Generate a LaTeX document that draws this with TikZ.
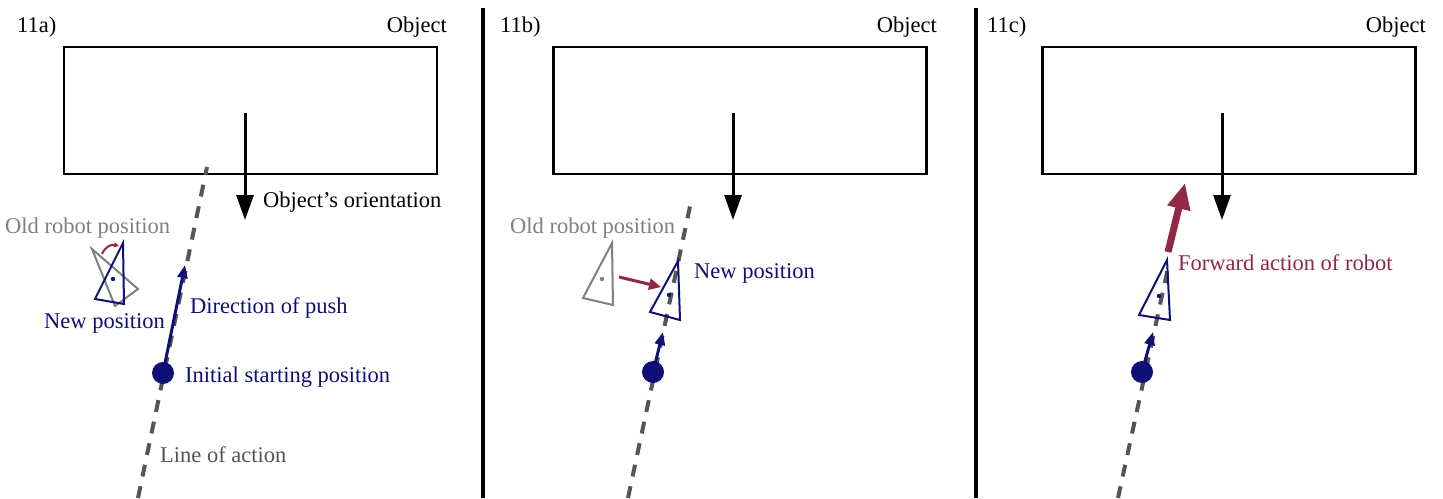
\documentclass[tikz,border=0pt]{standalone}
\usepackage{fontspec}
\newfontfamily\serifA{Liberation Serif}
\usetikzlibrary{arrows.meta}
\definecolor{navyc}{RGB}{15,15,120}
\definecolor{redc}{RGB}{145,40,70}
\definecolor{lgray}{RGB}{128,128,128}
\definecolor{dgray}{RGB}{85,85,85}
\begin{document}
\begin{tikzpicture}[x=1pt,y=-1pt,
  lbl/.style={font=\serifA\fontsize{22.5}{27}\selectfont, inner sep=0pt, anchor=base west},
  lblr/.style={lbl, anchor=base east},
  objbox/.style={draw, line width=2.5pt, minimum width=373pt, minimum height=127pt, inner sep=0pt},
  objarrow/.style={line width=3pt, -{Triangle[length=25pt,width=17pt]}},
  actline/.style={draw=dgray, line width=4pt, dash pattern=on 12pt off 10pt},
  pushdot/.style={circle, fill=navyc, minimum size=22pt, inner sep=0pt},
  pusharrow/.style={navyc, line width=3pt, -{Triangle[length=13pt,width=10pt]}},
  robotnew/.style={draw=navyc, line width=2pt},
  robotold/.style={draw=lgray, line width=2pt},
  divider/.style={line width=4pt}
]
\useasboundingbox (0,0) rectangle (1443,498);
\fill[white] (0,0) rectangle (1443,498);

% dividers
\coordinate (d1t) at (483,8); \coordinate (d1b) at (483,498);
\coordinate (d2t) at (976,8); \coordinate (d2b) at (976,498);
\draw[divider] (d1t) -- (d1b);
\draw[divider] (d2t) -- (d2b);

% ================= panel a =================
\node[lbl] (tA) at (17,32) {11a)};
\node[lblr] (objA) at (447,32) {Object};
\node[objbox] (boxA) at (250.5,110.5) {};
\coordinate (oaS) at (245,113); \coordinate (oaE) at (245,220);
\draw[objarrow] (oaS) -- (oaE);
\node[lbl] (orA) at (263,207) {Object’s orientation};

\coordinate (laB) at (138,498); \coordinate (laT) at (207,167);
\draw[actline] (laB) -- (laT);
\node[pushdot] (dotA) at (163,373) {};
\coordinate (pushA) at (185,265);
\draw[pusharrow] (dotA.center) -- (pushA);
\node[lbl, text=navyc] (initA) at (185,382) {Initial starting position};
\node[lbl, text=navyc] (dirA) at (190,313) {Direction of push};
\node[lbl, text=dgray] (loaA) at (160,462) {Line of action};
\node[lbl, text=lgray] (oldA) at (5,233) {Old robot position};
\node[lbl, text=navyc] (newA) at (44,328) {New position};

\draw[robotold] (92,249) -- (138,289) -- (115,306) -- cycle;
\draw[robotnew] (123,243) -- (95,299) -- (124,304) -- cycle;
\fill[navyc] (113,279) circle (2.2pt);
\coordinate (rotS) at (102,254); \coordinate (rotE) at (119,246);
\draw[redc, line width=2pt, -{Triangle[length=5pt,width=5pt]}] (rotS) .. controls (105,247) and (111,244) .. (rotE);

% ================= panel b =================
\node[lbl] (tB) at (500,32) {11b)};
\node[lblr] (objB) at (937,32) {Object};
\node[objbox] (boxB) at (740,110.5) {};
\coordinate (obS) at (733,113); \coordinate (obE) at (733,220);
\draw[objarrow] (obS) -- (obE);

\coordinate (lbB) at (628,498); \coordinate (lbT) at (692,197);
\draw[actline] (lbB) -- (lbT);
\node[pushdot] (dotB) at (653,372) {};
\coordinate (pushB) at (663,332);
\draw[pusharrow] (dotB.center) -- (pushB);
\node[lbl, text=lgray] (oldB) at (510,233) {Old robot position};
\node[lbl, text=navyc] (newB) at (694,278) {New position};

\draw[robotold] (612,243) -- (583,298) -- (613,305) -- cycle;
\fill[lgray] (602,279) circle (2.2pt);
\draw[robotnew] (678,261) -- (650,312) -- (680,320) -- cycle;
\fill[navyc] (669,295) circle (2.2pt);
\coordinate (mvS) at (619,277); \coordinate (mvE) at (661,287);
\draw[redc, line width=3pt, -{Triangle[length=12pt,width=11pt]}] (mvS) -- (mvE);

% ================= panel c =================
\node[lbl] (tC) at (987,32) {11c)};
\node[lblr] (objC) at (1426,32) {Object};
\node[objbox] (boxC) at (1229,110.5) {};
\coordinate (ocS) at (1222,113); \coordinate (ocE) at (1222,220);
\draw[objarrow] (ocS) -- (ocE);

\coordinate (lcB) at (1118,498); \coordinate (lcT) at (1168,268);
\draw[actline] (lcB) -- (lcT);
\node[pushdot] (dotC) at (1142,372) {};
\coordinate (pushC) at (1153,332);
\draw[pusharrow] (dotC.center) -- (pushC);

\draw[robotnew] (1167,260) -- (1139,315) -- (1170,320) -- cycle;
\fill[navyc] (1159,296) circle (2.2pt);
\coordinate (fwS) at (1168,252); \coordinate (fwE) at (1185,183);
\draw[redc, line width=7pt, -{Triangle[length=26pt,width=22pt]}] (fwS) -- (fwE);
\node[lbl, text=redc] (fwC) at (1178,270) {Forward action of robot};

\end{tikzpicture}
\end{document}
